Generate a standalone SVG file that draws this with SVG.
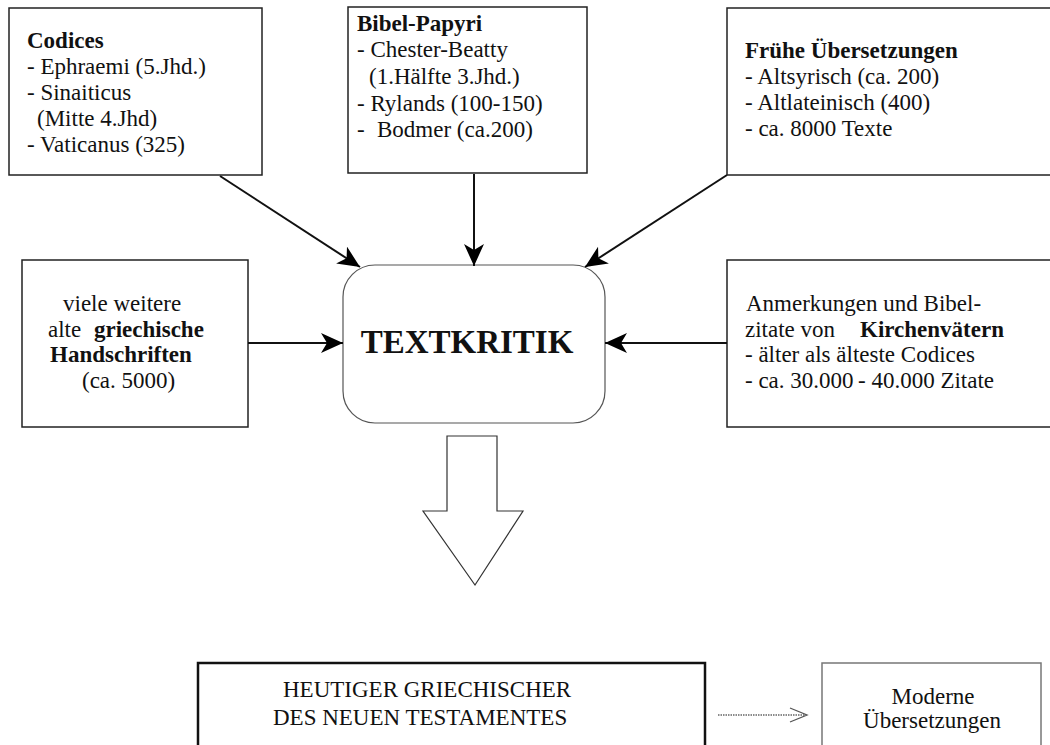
<svg xmlns="http://www.w3.org/2000/svg" width="1050" height="745" viewBox="0 0 1050 745">
<style>
  text { font-family: 'Liberation Serif', 'Times New Roman', serif; font-size: 23px; fill: #111; }
  .b { font-weight: bold; }
  .box { fill: #fff; stroke: #222; stroke-width: 1.5; }
  .conn { stroke: #111; stroke-width: 2; fill: none; }
</style>
<defs>
  <marker id="ah" markerUnits="userSpaceOnUse" markerWidth="24" markerHeight="22" refX="22" refY="10" orient="auto">
    <path d="M0,0 L22,10 L0,20 L6,10 z" fill="#000"/>
  </marker>
</defs>
<rect width="1050" height="745" fill="#fff"/>

<g id="codices">
  <rect class="box" x="9" y="8" width="253" height="167"/>
  <text x="27" y="48" class="b">Codices</text>
  <text x="27" y="74">- Ephraemi (5.Jhd.)</text>
  <text x="27" y="100">- Sinaiticus</text>
  <text x="37" y="126">(Mitte 4.Jhd)</text>
  <text x="27" y="152">- Vaticanus (325)</text>
</g>

<g id="papyri">
  <rect class="box" x="348" y="7" width="239" height="166"/>
  <text x="357" y="31" class="b">Bibel-Papyri</text>
  <text x="357" y="57">- Chester-Beatty</text>
  <text x="369" y="84">(1.Hälfte 3.Jhd.)</text>
  <text x="357" y="111">- Rylands (100-150)</text>
  <text x="357" y="137">- <tspan x="377">Bodmer (ca.200)</tspan></text>
</g>

<g id="uebersetzungen">
  <rect class="box" x="727" y="8" width="325" height="167"/>
  <text x="745" y="58" class="b">Frühe Übersetzungen</text>
  <text x="745" y="84">- Altsyrisch (ca. 200)</text>
  <text x="745" y="110">- Altlateinisch (400)</text>
  <text x="745" y="136">- ca. 8000 Texte</text>
</g>

<g id="handschriften">
  <rect class="box" x="22" y="260" width="226" height="167"/>
  <text x="63" y="311">viele weitere</text>
  <text x="48" y="337">alte <tspan x="94" class="b">griechische</tspan></text>
  <text x="50" y="362" class="b">Handschriften</text>
  <text x="82" y="388">(ca. 5000)</text>
</g>

<g id="kirchenvaeter">
  <rect class="box" x="727" y="260" width="325" height="167"/>
  <text x="746" y="311">Anmerkungen und Bibel-</text>
  <text x="745" y="337">zitate von <tspan x="860" class="b">Kirchenvätern</tspan></text>
  <text x="745" y="362">- älter als älteste Codices</text>
  <text x="745" y="388">- ca. 30.000 <tspan x="858">- 40.000 Zitate</tspan></text>
</g>

<g id="textkritik">
  <rect x="343" y="265" width="262" height="158" rx="32" ry="32" fill="#fff" stroke="#555" stroke-width="1.2"/>
  <text x="467" y="353" text-anchor="middle" class="b" style="font-size:33px">TEXTKRITIK</text>
</g>

<g id="bigarrow">
  <polygon points="447,436 497,436 497,511 523,511 475,585 423,511 447,511" fill="#fff" stroke="#333" stroke-width="1.2"/>
</g>

<g id="grundtext">
  <rect x="198" y="663" width="507" height="100" fill="#fff" stroke="#111" stroke-width="2.5"/>
  <text x="283" y="697">HEUTIGER GRIECHISCHER</text>
  <text x="273" y="725">DES NEUEN TESTAMENTES</text>
</g>

<g id="moderne">
  <rect x="822" y="663" width="219" height="100" fill="#fff" stroke="#777" stroke-width="1.5"/>
  <text x="933" y="704" text-anchor="middle">Moderne</text>
  <text x="932" y="728" text-anchor="middle">Übersetzungen</text>
</g>

<g id="connectors">
  <line class="conn" x1="220" y1="176" x2="360" y2="267" marker-end="url(#ah)"/>
  <line class="conn" x1="474" y1="174" x2="474" y2="266" marker-end="url(#ah)"/>
  <line class="conn" x1="727" y1="175" x2="585" y2="267" marker-end="url(#ah)"/>
  <line class="conn" x1="248" y1="343" x2="343" y2="343" marker-end="url(#ah)"/>
  <line class="conn" x1="727" y1="343" x2="605" y2="343" marker-end="url(#ah)"/>
  <line x1="718" y1="715" x2="805" y2="715" stroke="#666" stroke-width="1.3" stroke-dasharray="1.5,1"/>
  <polyline points="790,708 807,715 790,722" fill="none" stroke="#555" stroke-width="1.3"/>
</g>
</svg>
